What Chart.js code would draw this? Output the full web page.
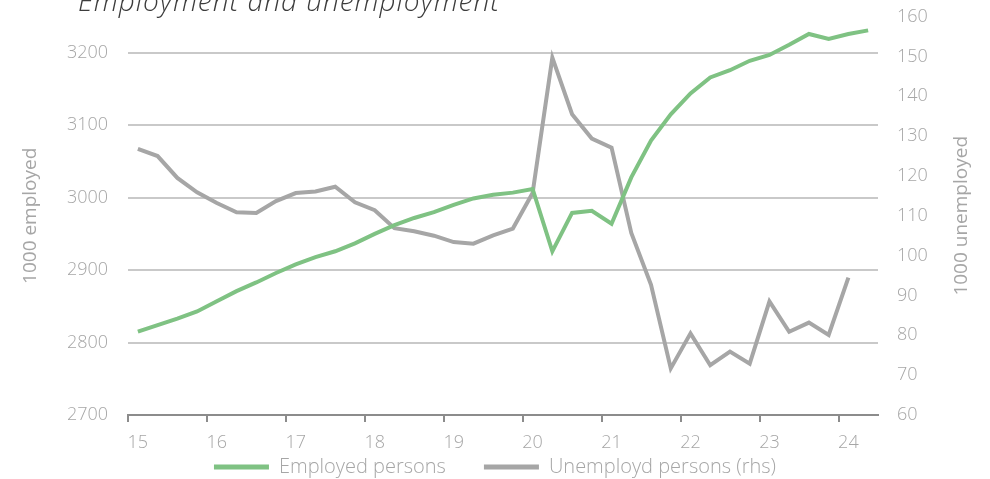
<!DOCTYPE html>
<html>
<head>
<meta charset="utf-8">
<script src="https://cdn.jsdelivr.net/npm/chart.js@4"></script>
<style>
  html, body { margin: 0; padding: 0; background: #fff; overflow: hidden; }
  #wrap { position: relative; width: 990px; height: 479px; overflow: hidden; }
  #title {
    position: absolute; left: 78px; top: -14px;
    font-family: 'Open Sans'; font-style: italic; font-weight: 300; font-size: 28px;
    letter-spacing: 1px; line-height: 1; color: #3c3c3c; white-space: nowrap;
  }
  canvas { position: absolute; left: 0; top: 0; }
</style>
</head>
<body>
<div id="wrap">
  <canvas id="employment-chart" width="990" height="479"></canvas>
  <div id="title">Employment and unemployment</div>
</div>
<script>
// quarterly observations, 2015Q1 - 2024Q2
const quarters = [
  '2015Q1', '2015Q2', '2015Q3', '2015Q4', '2016Q1', '2016Q2', '2016Q3', '2016Q4',
  '2017Q1', '2017Q2', '2017Q3', '2017Q4', '2018Q1', '2018Q2', '2018Q3', '2018Q4',
  '2019Q1', '2019Q2', '2019Q3', '2019Q4', '2020Q1', '2020Q2', '2020Q3', '2020Q4',
  '2021Q1', '2021Q2', '2021Q3', '2021Q4', '2022Q1', '2022Q2', '2022Q3', '2022Q4',
  '2023Q1', '2023Q2', '2023Q3', '2023Q4', '2024Q1', '2024Q2'
]
const yearTicks = ['15', '16', '17', '18', '19', '20', '21', '22', '23', '24']

// 1000 persons
const employed = [
  2815, 2824, 2833, 2843, 2857, 2871, 2883, 2896, 2908, 2918,
  2926, 2937, 2950, 2962, 2972, 2980, 2990, 2999, 3004, 3007,
  3012, 2926, 2979, 2982, 2964, 3028, 3079, 3115, 3144, 3166,
  3176, 3189, 3197, 3211, 3226, 3219, 3226, 3231
]
const unemployed = [
  126.8, 125.0, 119.5, 115.9, 113.2, 110.9, 110.7, 113.7, 115.7, 116.1,
  117.3, 113.4, 111.4, 106.9, 106.1, 105.0, 103.4, 103.0, 105.1, 106.8,
  115.7, 149.7, 135.5, 129.4, 127.1, 105.7, 92.7, 71.7, 80.5, 72.5,
  75.9, 72.9, 88.5, 80.9, 83.2, 80.1, 94.5, null
]

const grey = '#a6a6a6'
const green = '#7fc283'
const none = 'rgba(0,0,0,0)'
const tickFont = { family: 'Open Sans', size: 18, weight: 300 }
const legendFont = { family: 'Open Sans', size: 20, weight: 300 }
const titleFont = { family: 'Open Sans', size: 19, weight: 400 }

// x labels sit below the x box (it is squeezed so the legend can move up), so let them draw
const axisRoom = {
  id: 'axisRoom',
  afterLayout(chart) { chart.scales.x.bottom = chart.height }
}

// right axis title, read bottom-to-top like the left one
const rightTitle = {
  id: 'rightTitle',
  afterDraw(chart) {
    const { ctx, chartArea } = chart
    const scale = chart.scales.y1
    ctx.save()
    ctx.translate(scale.right - 28, (chartArea.top + chartArea.bottom) / 2)
    ctx.rotate(-Math.PI / 2)
    ctx.font = "400 19px 'Open Sans'"
    ctx.fillStyle = grey
    ctx.textAlign = 'center'
    ctx.textBaseline = 'middle'
    ctx.fillText('1000 unemployed', 0, 0)
    ctx.restore()
  }
}

new Chart(document.getElementById('employment-chart'), {
  type: 'line',
  data: {
    labels: quarters,
    datasets: [{
        label: 'Employed persons',
        data: employed,
        borderColor: green,
        backgroundColor: green,
        borderWidth: 4,
        pointRadius: 0,
        yAxisID: 'y'
      }, {
        label: 'Unemployd persons (rhs)',
        data: unemployed,
        borderColor: grey,
        backgroundColor: grey,
        borderWidth: 4,
        pointRadius: 0,
        yAxisID: 'y1'
      }
    ]
  },
  plugins: [axisRoom, rightTitle],
  options: {
    responsive: false,
    animation: false,
    layout: { padding: { top: 16.6, left: 0, right: 0, bottom: -8 } },
    plugins: {
      tooltip: { enabled: false },
      legend: {
        position: 'bottom',
        labels: {
          boxWidth: 55,
          boxHeight: 5,
          padding: 38,
          color: grey,
          font: legendFont,
          generateLabels: chart => Chart.defaults.plugins.legend.labels.generateLabels(chart)
            .map(item => Object.assign(item, { lineWidth: 0 }))
        }
      }
    },
    scales: {
      x: {
        offset: true,
        afterFit: scale => { scale.height = 4 },
        border: { color: '#8c8c8c', width: 2 },
        grid: {
          offset: true,
          drawOnChartArea: false,
          tickLength: 7,
          lineWidth: 2,
          color: ctx => ctx.index % 4 === 0 ? '#8c8c8c' : none
        },
        ticks: {
          autoSkip: false,
          maxRotation: 0,
          padding: 10,
          color: grey,
          font: tickFont,
          callback: (value, i) => i % 4 === 0 ? yearTicks[i / 4] : ''
        }
      },
      y: {
        position: 'left',
        min: 2700,
        max: 3250,
        afterBuildTicks: scale => { scale.ticks = scale.ticks.filter(t => t.value <= 3200) },
        afterFit: scale => { scale.width = 128 },
        border: { display: false },
        grid: {
          drawTicks: true,
          tickLength: 20,
          tickColor: none,
          lineWidth: 2,
          color: ctx => ctx.tick && ctx.tick.value === 2700 ? none : '#c9c9c9'
        },
        ticks: { stepSize: 100, padding: 0, color: grey, font: tickFont, callback: v => String(v) },
        title: {
          display: true,
          text: '1000 employed',
          color: grey,
          font: titleFont,
          padding: { top: 19, bottom: 0 }
        }
      },
      y1: {
        position: 'right',
        min: 60,
        max: 160,
        afterFit: scale => { scale.width = 112 },
        border: { display: false },
        grid: { display: false, drawTicks: true, tickLength: 19 },
        ticks: { stepSize: 10, padding: 0, color: grey, font: tickFont }
      }
    }
  }
});
</script>
</body>
</html>
